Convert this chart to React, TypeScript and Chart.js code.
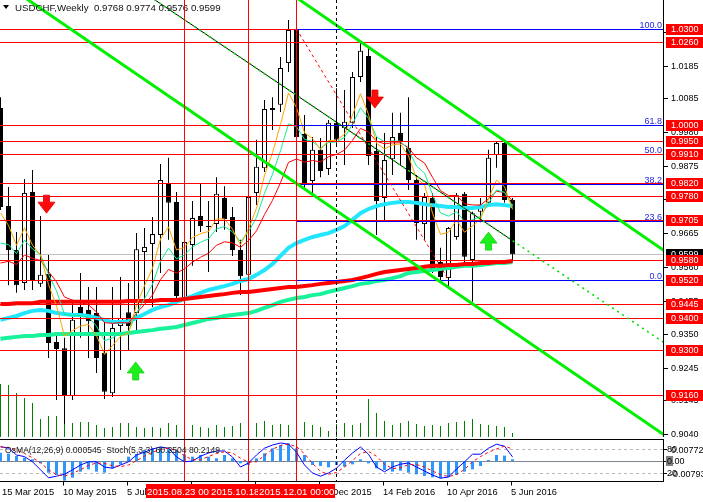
import React, { useEffect, useRef } from "react";
import { Chart, registerables } from "chart.js";

Chart.register(...registerables);

// ---------------- data ----------------
const symbolTitle = "USDCHF,Weekly";
const quoteOHLC = ["0.9768", "0.9774", "0.9576", "0.9599"];
const subTitle = "OsMA(12,26,9) 0.000545  Stoch(5,3,3) 60.3504 80.2149";

// weekly bars, 15 Mar 2015 ... 5 Jun 2016
const opens = [1.0054, 0.9749, 0.9612, 0.951, 0.9793, 0.9507, 0.9538, 0.9326, 0.9307, 0.9158,
  0.9435, 0.9426, 0.9416, 0.9292, 0.9167, 0.9376, 0.9419, 0.9416, 0.9606, 0.9631,
  0.9659, 0.9818, 0.9762, 0.9463, 0.9628, 0.9718, 0.9687, 0.9693, 0.9774, 0.9715,
  0.9612, 0.9535, 0.979, 0.9867, 1.0048, 1.0064, 1.0194, 1.0297, 0.9973, 0.9827,
  0.9924, 0.9864, 1.0008, 0.9992, 1.0008, 1.0151, 1.0216, 0.992, 0.9774, 0.9895,
  0.9976, 0.993, 0.983, 0.9693, 0.9774, 0.9575, 0.9525, 0.9653, 0.9787, 0.9581,
  0.9731, 0.9759, 0.9908, 0.9945, 0.9768];
const highs = [1.0088, 0.9808, 0.9668, 0.9833, 0.9861, 0.9718, 0.9597, 0.9348, 0.9339, 0.9457,
  0.9541, 0.9497, 0.9497, 0.9395, 0.9497, 0.9528, 0.951, 0.9665, 0.9681, 0.9715,
  0.988, 0.9899, 0.9793, 0.9668, 0.9765, 0.9821, 0.9765, 0.9839, 0.9811, 0.9746,
  0.9644, 0.978, 0.9955, 1.0079, 1.0088, 1.0213, 1.0328, 1.0303, 1.0032, 0.9964,
  0.9961, 1.0017, 1.0116, 1.011, 1.0166, 1.0256, 1.0241, 0.9964, 0.9976, 1.0039,
  1.0039, 1.0088, 0.9846, 0.979, 0.979, 0.9619, 0.9684, 0.979, 0.9793, 0.9731,
  0.9774, 0.9924, 0.9948, 0.9951, 0.9774];
const lows = [0.9737, 0.9503, 0.9479, 0.9488, 0.9488, 0.9497, 0.9276, 0.9146, 0.9071, 0.9146,
  0.9339, 0.9276, 0.923, 0.9149, 0.9155, 0.9239, 0.9301, 0.9363, 0.9457, 0.9435,
  0.9541, 0.9644, 0.9457, 0.9395, 0.9563, 0.9668, 0.9544, 0.9668, 0.9675, 0.9594,
  0.9472, 0.9525, 0.9752, 0.9855, 0.9986, 1.0042, 1.0166, 0.9955, 0.9799, 0.979,
  0.9839, 0.9846, 0.9939, 0.9877, 0.9992, 1.0135, 0.9877, 0.9659, 0.9706, 0.9846,
  0.9877, 0.9799, 0.9644, 0.9644, 0.9541, 0.9519, 0.9494, 0.9644, 0.9572, 0.9451,
  0.9699, 0.9752, 0.9868, 0.9759, 0.9576];
const closes = [0.9746, 0.9612, 0.9503, 0.979, 0.9519, 0.9535, 0.9323, 0.9304, 0.9158, 0.9395,
  0.9404, 0.9391, 0.9276, 0.9171, 0.937, 0.9401, 0.9376, 0.9615, 0.9622, 0.9662,
  0.983, 0.9759, 0.9469, 0.9637, 0.9712, 0.9687, 0.9684, 0.9787, 0.9709, 0.9612,
  0.9531, 0.9777, 0.9871, 1.0051, 1.0054, 1.0179, 1.0297, 0.9964, 0.9821, 0.9924,
  0.9858, 1.0008, 0.9955, 1.0011, 1.0151, 1.0232, 0.9905, 0.9765, 0.9892, 0.9964,
  0.9948, 0.983, 0.9696, 0.9777, 0.955, 0.9528, 0.9681, 0.9783, 0.9591, 0.9727,
  0.9752, 0.9899, 0.9945, 0.9768, 0.9599];
const volumes = [10600, 10400, 8800, 7800, 6800, 3600, 4200, 4200, 2800, 2800,
  3000, 3000, 2400, 1800, 2000, 2800, 2800, 2000, 1800, 2000,
  1800, 2800, 2400, 3600, 2400, 2000, 1800, 2400, 2000, 2200,
  2800, 3600, 2800, 3200, 2400, 2600, 2400, 4400, 3000, 2400,
  2000, 1200, 2600, 2800, 2400, 2800, 7600, 4800, 3200, 2400,
  2800, 3200, 2600, 2200, 2400, 2200, 2800, 3000, 3200, 3600,
  2600, 2400, 2200, 2000, 800];

// long moving averages
const maCyan = [0.9395, 0.9401, 0.9407, 0.9416, 0.9423, 0.9426, 0.9423, 0.9416, 0.9413, 0.941,
  0.941, 0.9407, 0.9401, 0.9395, 0.9388, 0.9388, 0.9391, 0.9401, 0.9413, 0.9426,
  0.9435, 0.9441, 0.9451, 0.946, 0.9469, 0.9479, 0.9488, 0.9494, 0.95, 0.9507,
  0.9516, 0.9522, 0.9535, 0.955, 0.9569, 0.9594, 0.9619, 0.9634, 0.9644, 0.9653,
  0.9659, 0.9665, 0.9675, 0.9687, 0.9706, 0.9727, 0.974, 0.9749, 0.9755, 0.9759,
  0.9762, 0.9762, 0.9759, 0.9755, 0.9752, 0.9749, 0.9746, 0.9746, 0.9743, 0.9743,
  0.9746, 0.9752, 0.9755, 0.9752, 0.9749];
const maRedLong = [0.9444, 0.9444, 0.9447, 0.9447, 0.9447, 0.9451, 0.9451, 0.9451, 0.9451, 0.9451,
  0.9451, 0.9451, 0.9451, 0.9451, 0.9451, 0.9451, 0.9454, 0.9454, 0.9454, 0.9454,
  0.9457, 0.9457, 0.9457, 0.946, 0.9463, 0.9466, 0.9469, 0.9472, 0.9475, 0.9479,
  0.9482, 0.9482, 0.9485, 0.9488, 0.9491, 0.9494, 0.9497, 0.9497, 0.95, 0.9503,
  0.9507, 0.951, 0.9513, 0.9516, 0.9519, 0.9525, 0.9531, 0.9538, 0.9544, 0.9547,
  0.955, 0.9553, 0.9556, 0.956, 0.9563, 0.9563, 0.9566, 0.9566, 0.9569, 0.9569,
  0.9572, 0.9572, 0.9575, 0.9575, 0.9578];
const maGreenLong = [0.9336, 0.9339, 0.9342, 0.9345, 0.9345, 0.9348, 0.9348, 0.9351, 0.9351, 0.9351,
  0.9351, 0.9351, 0.9351, 0.9351, 0.9351, 0.9351, 0.9354, 0.9357, 0.936, 0.9363,
  0.9367, 0.937, 0.9373, 0.9379, 0.9385, 0.9391, 0.9398, 0.9401, 0.9407, 0.941,
  0.9413, 0.9416, 0.9423, 0.9432, 0.9441, 0.9451, 0.9457, 0.9463, 0.9466, 0.9472,
  0.9475, 0.9482, 0.9488, 0.9494, 0.95, 0.9507, 0.951, 0.9516, 0.9519, 0.9525,
  0.9531, 0.9541, 0.9544, 0.9547, 0.955, 0.9553, 0.9556, 0.956, 0.9563, 0.9563,
  0.9566, 0.9569, 0.9572, 0.9572, 0.9575];

// short EMAs: [period, value before first bar]
const emaFastDef = [5, 0.9718];
const emaMidDef = [8, 0.9602];
const emaSlowDef = [14, 0.9545];

const osma = [0.00275, 0.00242, 0.00165, 0.0011, 0.00055, -0.00077, -0.00385, -0.00462, -0.00649, -0.0055,
  -0.00352, -0.00275, -0.00352, -0.00385, -0.00242, -0.0011, 0.00143, 0.00231, 0.00363, 0.00418,
  0.00473, 0.00418, 0.00363, 0.0022, 0.00143, 0.00198, 0.00143, 0.00088, 0.00198, 0.00088,
  -0.00077, -0.00132, 0.00088, 0.00253, 0.00418, 0.00528, 0.00583, 0.00418, 0.00198, -0.00132,
  -0.00165, -0.00209, -0.00132, -0.00187, -0.0011, 0.00055, -0.00077, -0.00242, -0.00297, -0.00352,
  -0.00319, -0.00385, -0.0044, -0.00495, -0.00539, -0.00572, -0.00539, -0.00462, -0.00352, -0.00275,
  -0.00165, 0.00033, 0.00198, 0.00176, 0.000545];
const stochMain = [86, 82, 65, 61, 48, 28, 8, 12, 17, 28, 40, 48, 48, 35, 32, 40, 48, 65, 72, 80,
  85, 82, 60, 48, 50, 62, 70, 75, 75, 60, 35, 45, 65, 82, 90, 95, 92, 72, 40, 20,
  12, 20, 32, 52, 70, 85, 67, 35, 23, 35, 42, 45, 35, 25, 15, 7, 10, 30, 48, 67,
  67, 82, 92, 87, 60.35];
const stochSignal = [85, 84, 78, 69, 58, 46, 28, 16, 12, 19, 28, 39, 45, 44, 38, 36, 40, 51, 62, 72,
  79, 82, 76, 63, 53, 53, 61, 69, 73, 70, 57, 47, 48, 64, 79, 89, 92, 86, 68, 44,
  24, 17, 21, 35, 51, 69, 74, 62, 42, 31, 33, 41, 41, 35, 25, 16, 11, 16, 29, 48,
  61, 72, 80, 87, 80.21];
const stochLevels = [80, 20];

const timeTickBars = [0, 8, 16, 24, 32, 40, 48, 56, 64];
const timeTickLabels = ["15 Mar 2015", "10 May 2015", "5 Jul 2015", "30 Aug 2015", "25 Oct 2015",
  "20 Dec 2015", "14 Feb 2016", "10 Apr 2016", "5 Jun 2016"];

const priceTicks = [1.029, 1.0185, 1.0085, 0.998, 0.9875, 0.977, 0.9665, 0.956, 0.9455, 0.935, 0.9245, 0.9145, 0.904];
const levelLines = [1.03, 1.026, 1.0, 0.995, 0.991, 0.982, 0.978, 0.9705, 0.958, 0.952, 0.9445, 0.94, 0.93, 0.916];
const levelLinesOnTop = [0.991];
const bidPrice = 0.9599;

const fibLevels = [100, 61.8, 50, 38.2, 23.6, 0];
const fibHigh = 1.03;
const fibLow = 0.952;
const fibFromBar = 37;
const fibToBar = 56;

const vLineBars = [23, 31, 37];
const vLineLabels = ["2015.08.23 00:00", "2015.10.18 00:00", "2015.12.01 00:00"];
const sepLineBar = 42;

// trend lines: two anchors [bar, price]
const trendA = [[10, 1.0279], [60, 0.9428]];
const trendB = [[40, 1.0346], [64, 0.9935]];
const trendC = [[25, 1.0295], [60, 0.97085]];
const trendCSolidEnd = 64;

const arrowsDown = [[5.75, 0.9727], [46.8, 1.0054]];
const arrowsUp = [[16.9, 0.9264], [61.0, 0.9668]];

const oscRightLabels = { top: "0.00772", zero: "0.00", bottom: "-0.00793" };

// ---------------- helpers ----------------
function ema(src: number[], period: number, prev: number) {
  const k = 2 / (period + 1);
  let e = prev;
  return src.map((v) => (e = e + k * (v - e)));
}
const xy = (arr: number[]) => arr.map((v, i) => ({ x: i, y: v }));
const FONT = '"Liberation Sans", Arial, sans-serif';

const mt4Plugin: any = {
  id: "mt4",
  beforeDatasetsDraw(chart: any) {
    const { ctx, chartArea, scales } = chart;
    const R = chartArea.right;
    const yp = scales.y, ys = scales.ys, yo = scales.yo;
    ctx.save();
    ctx.lineWidth = 1;
    const seg = (x0: number, y0: number, x1: number, y1: number) => {
      ctx.beginPath(); ctx.moveTo(x0, y0); ctx.lineTo(x1, y1); ctx.stroke();
    };
    ctx.strokeStyle = "#C0C0C0";
    const by = Math.round(yp.getPixelForValue(bidPrice)) + 0.5;
    seg(0, by, R, by);
    ctx.strokeStyle = "#B8B8B8";
    ctx.setLineDash([3, 3]);
    stochLevels.forEach((lv) => {
      const y = Math.round(ys.getPixelForValue(lv)) + 0.5;
      seg(0, y, R, y);
    });
    ctx.setLineDash([]);
    ctx.strokeStyle = "#7C8790";
    const zy = Math.round(yo.getPixelForValue(0)) + 0.5;
    seg(0, zy, R, zy);
    ctx.restore();
  },
  afterDatasetsDraw(chart: any) {
    const { ctx, chartArea, scales } = chart;
    const xs = scales.x, yp = scales.y, ys = scales.ys, yo = scales.yo, yv = scales.yv;
    const R = chartArea.right;
    const W = chart.width;
    const mainBottom = yv.getPixelForValue(0);
    const subTop = Math.round(ys.getPixelForValue(100)) - 1.5;
    const subBottom = Math.round(ys.getPixelForValue(0)) + 0.5;
    const X = (b: number) => xs.getPixelForValue(b);
    const Y = (p: number) => yp.getPixelForValue(p);
    const hy = (p: number) => Math.round(Y(p)) + 0.5;
    const seg = (x0: number, y0: number, x1: number, y1: number) => {
      ctx.beginPath(); ctx.moveTo(x0, y0); ctx.lineTo(x1, y1); ctx.stroke();
    };
    const ray = (ln: number[][], x0: number, x1: number) => {
      const xa = X(ln[0][0]), ya = Y(ln[0][1]), xb = X(ln[1][0]), yb = Y(ln[1][1]);
      const k = (yb - ya) / (xb - xa);
      seg(x0, ya + (x0 - xa) * k, x1, ya + (x1 - xa) * k);
    };

    ctx.save();
    ctx.beginPath();
    ctx.rect(0, 0, R, mainBottom);
    ctx.clip();
    ctx.lineWidth = 1;

    ctx.strokeStyle = "#FF0000";
    levelLines.forEach((p) => seg(0, hy(p), R, hy(p)));

    const fx = Math.floor(X(fibFromBar)) + 0.5;
    ctx.strokeStyle = "#0000FF";
    ctx.font = "9px " + FONT;
    ctx.textAlign = "right";
    ctx.textBaseline = "alphabetic";
    ctx.fillStyle = "#2424E6";
    fibLevels.forEach((lv) => {
      const p = fibLow + ((fibHigh - fibLow) * lv) / 100;
      const y = hy(p);
      seg(fx, y, R, y);
      ctx.fillText(lv.toFixed(1), R - 2, y - 2);
    });
    ctx.strokeStyle = "#FF0000";
    levelLinesOnTop.forEach((p) => seg(0, hy(p), R, hy(p)));
    ctx.setLineDash([3, 3]);
    seg(X(fibFromBar), Y(fibHigh), X(fibToBar), Y(fibLow));
    ctx.setLineDash([]);

    ctx.strokeStyle = "#00F000";
    ctx.lineWidth = 3;
    ray(trendA, 0, R);
    ray(trendB, 0, R);
    ctx.lineWidth = 1;
    ctx.strokeStyle = "#000000";
    ray(trendC, 0, X(trendCSolidEnd));
    ctx.strokeStyle = "#00E000";
    ctx.lineWidth = 1.6;
    ctx.setLineDash([2, 4]);
    ray(trendC, 0, R);
    ctx.setLineDash([]);
    ctx.lineWidth = 1;

    const arrow = (cx: number, tipY: number, dir: number, fill: string, edge: string) => {
      const top = tipY - dir * 18;
      const neck = tipY - dir * 11;
      ctx.beginPath();
      ctx.moveTo(cx - 3, top);
      ctx.lineTo(cx + 3, top);
      ctx.lineTo(cx + 3, neck);
      ctx.lineTo(cx + 8.5, neck);
      ctx.lineTo(cx, tipY);
      ctx.lineTo(cx - 8.5, neck);
      ctx.lineTo(cx - 3, neck);
      ctx.closePath();
      ctx.fillStyle = fill;
      ctx.fill();
      ctx.strokeStyle = edge;
      ctx.lineWidth = 0.8;
      ctx.stroke();
      ctx.lineWidth = 1;
    };
    arrowsDown.forEach(([b, p]) => arrow(X(b), Y(p), 1, "#FF0A0A", "#E00000"));
    arrowsUp.forEach(([b, p]) => arrow(X(b), Y(p), -1, "#1CF01C", "#10D010"));

    ctx.fillStyle = "#000";
    ctx.beginPath();
    ctx.moveTo(3, 5); ctx.lineTo(9, 5); ctx.lineTo(6, 9); ctx.closePath();
    ctx.fill();
    ctx.font = "9.7px " + FONT;
    ctx.textAlign = "left";
    ctx.textBaseline = "alphabetic";
    ctx.fillStyle = "#101010";
    ctx.fillText(symbolTitle + "  " + quoteOHLC.join(" "), 15, 11);
    ctx.restore();

    ctx.save();
    ctx.lineWidth = 1;
    ctx.strokeStyle = "#FF0000";
    vLineBars.forEach((b) => {
      const x = Math.floor(X(b)) + 0.5;
      seg(x, 0, x, subBottom);
    });
    ctx.strokeStyle = "#000";
    ctx.setLineDash([3, 3]);
    const sx = Math.floor(X(sepLineBar)) + 0.5;
    seg(sx, 0, sx, subBottom);
    ctx.setLineDash([]);

    ctx.strokeStyle = "#000";
    seg(R - 0.5, 0, R - 0.5, mainBottom);
    seg(0, subTop, R, subTop);
    seg(0, subBottom, R, subBottom);
    seg(R - 0.5, subTop, R - 0.5, subBottom);

    ctx.font = "8.6px " + FONT;
    ctx.fillStyle = "#202020";
    ctx.textAlign = "left";
    ctx.textBaseline = "alphabetic";
    ctx.fillText(subTitle, 5, subTop + 13);

    ctx.font = "9px " + FONT;
    ctx.textBaseline = "middle";
    priceTicks.forEach((p) => {
      const y = hy(p);
      seg(R, y, R + 4, y);
      ctx.fillStyle = "#000";
      ctx.fillText(p.toFixed(4), R + 7, y + 0.5);
    });
    const boxLabel = (p: number, bg: string) => {
      const y = Y(p);
      ctx.fillStyle = bg;
      ctx.fillRect(R + 2, Math.round(y) - 5, W - R - 2, 11);
      ctx.fillStyle = "#FFFFFF";
      ctx.fillText(p.toFixed(4), R + 7, Math.round(y) + 0.5);
    };
    boxLabel(bidPrice, "#000000");
    levelLines.forEach((p) => boxLabel(p, "#FF0000"));

    const y80 = Math.round(ys.getPixelForValue(stochLevels[0])) + 0.5;
    const y20 = Math.round(ys.getPixelForValue(stochLevels[1])) + 0.5;
    const y0 = Math.round(yo.getPixelForValue(0)) + 0.5;
    ctx.strokeStyle = "#000";
    [y80, y0, y20].forEach((y) => seg(R, y, R + 3, y));
    ctx.fillStyle = "#000";
    ctx.fillText(String(stochLevels[0]), R + 3, y80);
    ctx.fillText(oscRightLabels.top, R + 7, y80 + 1);
    ctx.fillStyle = "#808080";
    ctx.fillRect(R + 2, y0 - 5.5, 7, 10);
    ctx.fillStyle = "#000";
    ctx.fillText(oscRightLabels.zero, R + 3, y0);
    ctx.fillText(String(stochLevels[1]), R + 3, y20);
    ctx.fillText(oscRightLabels.bottom, R + 6, y20 + 1);

    ctx.font = "9.3px " + FONT;
    ctx.textBaseline = "alphabetic";
    ctx.textAlign = "left";
    timeTickBars.forEach((b, i) => {
      const tx = Math.floor(X(b)) - 0.5;
      seg(tx, subBottom, tx, subBottom + 4);
      ctx.fillStyle = "#000";
      ctx.fillText(timeTickLabels[i], Math.max(2, tx - 0.5), subBottom + 13.5);
    });
    ctx.font = "9.7px " + FONT;
    vLineBars.forEach((b, i) => {
      const cx = Math.floor(X(b)) + 0.5;
      const tw = ctx.measureText(vLineLabels[i]).width + 2;
      ctx.fillStyle = "#FF0000";
      ctx.fillRect(Math.round(cx - tw / 2), subBottom + 2.5, Math.round(tw), 14);
      ctx.fillStyle = "#FFFFFF";
      ctx.fillText(vLineLabels[i], Math.round(cx - tw / 2) + 1, subBottom + 13.5);
    });
    ctx.restore();
  },
};

export default function App() {
  const ref = useRef<HTMLCanvasElement>(null);
  useEffect(() => {
    document.body.style.margin = "0";
    const emaFast = ema(closes, emaFastDef[0], emaFastDef[1]);
    const emaMid = ema(closes, emaMidDef[0], emaMidDef[1]);
    const emaSlow = ema(closes, emaSlowDef[0], emaSlowDef[1]);
    const line = (data: number[], color: string, width: number, order: number, axis = "y", dash: number[] = []) => ({
      type: "line",
      yAxisID: axis,
      data: xy(data),
      borderColor: color,
      borderWidth: width,
      borderDash: dash,
      pointRadius: 0,
      tension: 0,
      fill: false,
      order,
    });
    const chart = new Chart(ref.current as HTMLCanvasElement, {
      type: "bar",
      data: {
        datasets: [
          { type: "bar", yAxisID: "yv", data: xy(volumes), backgroundColor: "#008000", barThickness: 1, grouped: false, inflateAmount: 0, order: 30 } as any,
          { type: "bar", yAxisID: "y", data: lows.map((l, i) => ({ x: i, y: [l, highs[i]] })), backgroundColor: "#000000", barThickness: 1, grouped: false, inflateAmount: 0, order: 29 } as any,
          {
            type: "bar", yAxisID: "y",
            data: opens.map((o, i) => ({ x: i, y: [o, closes[i]] })),
            backgroundColor: opens.map((o, i) => (closes[i] >= o ? "#FFFFFF" : "#000000")),
            borderColor: "#000000", borderWidth: 1, borderSkipped: false,
            barThickness: 5, grouped: false, inflateAmount: 0, order: 28,
          } as any,
          line(maGreenLong, "#17F29B", 4, 15) as any,
          line(maCyan, "#22E6FF", 4, 14) as any,
          line(maRedLong, "#FF0000", 4, 13) as any,
          line(emaSlow, "#FF0000", 1, 10) as any,
          line(emaMid, "#10EE90", 1, 9) as any,
          line(emaFast, "#FFA500", 1, 8) as any,
          { type: "bar", yAxisID: "yo", data: xy(osma), backgroundColor: "#2E96FF", barThickness: 3, grouped: false, inflateAmount: 0, order: 5 } as any,
          line(stochMain, "#0000FF", 1, 2, "ys") as any,
          line(stochSignal, "#FF0000", 1, 1, "ys", [3, 3]) as any,
        ],
      },
      options: {
        responsive: false,
        animation: false,
        events: [],
        layout: { padding: { left: 0, right: 0, top: 0, bottom: 20 } },
        plugins: { legend: { display: false }, tooltip: { enabled: false }, title: { display: false } },
        scales: {
          x: { type: "linear", min: -0.0625, max: 82.9375, display: false, offset: false },
          y: {
            type: "linear", position: "right", min: 0.88905, max: 1.03902, beginAtZero: false,
            ticks: { display: false }, grid: { display: false }, border: { display: false },
            afterFit: (s: any) => { s.width = 39; s.paddingTop = 0; s.paddingBottom = 0; },
          },
          yv: { type: "linear", display: false, min: -9000, max: 87400 },
          yo: { type: "linear", display: false, min: -0.00693, max: 0.15213 },
          ys: { type: "linear", display: false, min: -2.5, max: 1202.5 },
        },
      } as any,
      plugins: [mt4Plugin],
    } as any);
    return () => chart.destroy();
  }, []);
  return (
    <div style={{ position: "fixed", left: 0, top: 0, width: 703, height: 502, background: "#FFFFFF" }}>
      <canvas ref={ref} width={703} height={502} style={{ display: "block", width: 703, height: 502 }} />
    </div>
  );
}
